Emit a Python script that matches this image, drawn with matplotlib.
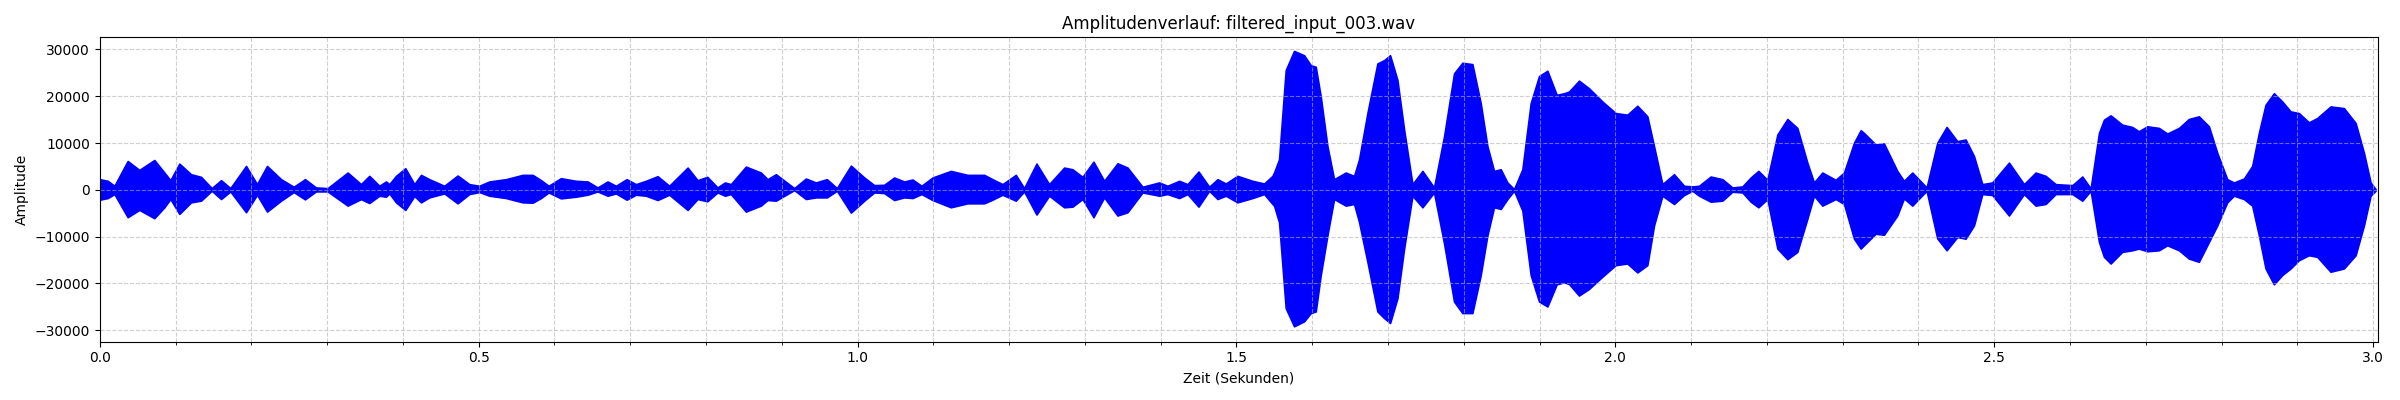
import matplotlib
matplotlib.use('Agg')
import matplotlib.pyplot as plt
from matplotlib.ticker import MultipleLocator

# ---------- envelope of the waveform ----------
# time (s), upper envelope, lower envelope
zeit = [0.0, 0.0105, 0.0193, 0.0368, 0.0522, 0.072, 0.0852, 0.0932, 0.105, 0.1204,
        0.1336, 0.1477, 0.16, 0.1723, 0.193, 0.2075, 0.2207, 0.2392, 0.2559, 0.2708,
        0.2853, 0.3007, 0.3271, 0.3447, 0.3557, 0.3689, 0.3777, 0.3821, 0.3909, 0.4032,
        0.4151, 0.4239, 0.4348, 0.4546, 0.4722, 0.4876, 0.5008, 0.514, 0.536, 0.558,
        0.5712, 0.5822, 0.5923, 0.6085, 0.6283, 0.6437, 0.6569, 0.6701, 0.6811, 0.6952,
        0.7075, 0.7207, 0.7361, 0.7515, 0.7757, 0.7888, 0.8016, 0.8152, 0.8249, 0.8328,
        0.8526, 0.8724, 0.8812, 0.8922, 0.9164, 0.9318, 0.945, 0.9595, 0.9727, 0.9912,
        1.0088, 1.022, 1.0351, 1.0483, 1.0615, 1.0725, 1.0844, 1.0989, 1.1231, 1.1451,
        1.1671, 1.178, 1.1912, 1.2088, 1.2198, 1.2361, 1.2528, 1.2726, 1.2836, 1.2968,
        1.3113, 1.3254, 1.343, 1.3562, 1.376, 1.398, 1.409, 1.4244, 1.4354, 1.4499,
        1.464, 1.475, 1.4859, 1.5013, 1.5211, 1.5365, 1.5475, 1.5496, 1.5562, 1.565,
        1.576, 1.5892, 1.598, 1.6046, 1.6112, 1.62, 1.6288, 1.6442, 1.6552, 1.6618,
        1.6728, 1.686, 1.6948, 1.7027, 1.7124, 1.7212, 1.7322, 1.7454, 1.7607, 1.774,
        1.7871, 1.7981, 1.8113, 1.8223, 1.8311, 1.8399, 1.8487, 1.8575, 1.8663, 1.8773,
        1.8883, 1.8993, 1.9103, 1.9226, 1.9323, 1.9388, 1.952, 1.9652, 1.9828, 2.0004,
        2.0158, 2.029, 2.0422, 2.051, 2.062, 2.0774, 2.0906, 2.1016, 2.1104, 2.1258,
        2.1412, 2.1544, 2.1676, 2.1786, 2.1887, 2.2006, 2.2138, 2.227, 2.2401, 2.2533,
        2.2621, 2.2731, 2.2907, 2.3017, 2.3149, 2.3237, 2.328, 2.3434, 2.3544, 2.372,
        2.3808, 2.3918, 2.4107, 2.4248, 2.4371, 2.4512, 2.4622, 2.4732, 2.4842, 2.4974,
        2.5194, 2.5392, 2.5546, 2.5678, 2.581, 2.603, 2.6162, 2.6272, 2.6382, 2.6448,
        2.6536, 2.6688, 2.682, 2.6908, 2.7019, 2.7173, 2.7283, 2.7437, 2.7568, 2.77,
        2.7832, 2.7942, 2.8074, 2.8162, 2.8294, 2.8404, 2.8492, 2.858, 2.869, 2.88,
        2.891, 2.902, 2.9152, 2.9262, 2.9438, 2.9614, 2.9768, 2.9878, 2.9966, 3.0032]

oben = [2260, 1910, 850, 6150, 4240, 6360, 3680, 2050, 5590, 3320,
        2760, 350, 2050, 350, 5090, 1200, 5090, 2260, 640, 2260,
        490, 350, 3680, 1200, 2970, 850, 1770, 1200, 2970, 4600,
        1200, 3180, 2260, 850, 3040, 1200, 850, 1770, 2260, 3180,
        3180, 2050, 850, 2470, 1910, 1770, 490, 1770, 850, 2260,
        1200, 1910, 2900, 850, 4740, 2050, 2760, 490, 1560, 1200,
        4950, 3680, 2260, 3320, 350, 2400, 1560, 2260, 350, 5160,
        2620, 990, 1060, 2620, 1770, 2190, 850, 2620, 4030, 3180,
        3180, 2260, 1200, 3180, 350, 5590, 1200, 4740, 4380, 2760,
        6010, 1910, 5660, 4740, 640, 1560, 850, 1910, 1200, 3890,
        640, 2260, 1340, 2970, 1910, 1340, 2970, 3680, 6500, 25590,
        29690, 28770, 26650, 26300, 19940, 9330, 2260, 3680, 2970, 6500,
        16400, 27010, 27710, 28770, 23470, 12870, 1200, 4030, 490, 11450,
        24890, 27150, 26870, 18520, 9330, 4030, 4380, 1560, 140, 4380,
        18520, 24320, 25450, 20290, 20640, 21000, 23330, 21700, 18880, 16400,
        16050, 17960, 15700, 9330, 1200, 3320, 850, 710, 850, 2830,
        2260, 490, 710, 2620, 4030, 2120, 11810, 15130, 13220, 5800,
        1560, 3680, 2120, 3680, 10040, 12730, 12160, 9690, 9900, 4030,
        1910, 3680, 490, 10040, 13430, 10390, 10750, 7210, 1200, 1560,
        5800, 1200, 3680, 2970, 1200, 990, 2830, 280, 12160, 14990,
        15910, 13930, 13430, 12510, 13570, 13220, 12020, 13220, 15130, 15700,
        13570, 7920, 2260, 1560, 2400, 5090, 12160, 18170, 20640, 18880,
        16760, 16400, 14420, 15340, 17820, 17460, 14280, 7920, 1560, 140]

unten = [-2120, -1770, -920, -5870, -4310, -6080, -3750, -1980, -5160, -2690,
         -2330, -210, -1980, -350, -4810, -1060, -4670, -2330, -490, -2050,
         -350, -350, -3390, -2000, -2830, -1270, -1480, -780, -2690, -4310,
         -1340, -2690, -1630, -780, -2900, -920, -490, -1270, -1770, -2690,
         -2760, -1770, -570, -1840, -1480, -1060, -350, -1270, -780, -2120,
         -1060, -1270, -2190, -1060, -4310, -1980, -2470, -570, -1270, -920,
         -4670, -3390, -2190, -2330, -70, -1980, -1630, -1630, -210, -4880,
         -2330, -570, -710, -2190, -1630, -1770, -920, -2190, -3750, -2900,
         -2900, -2120, -1060, -2330, -350, -5300, -1270, -3750, -3610, -1980,
         -5870, -1630, -5510, -4810, -570, -1270, -920, -1770, -920, -3610,
         -210, -1980, -1270, -2690, -1770, -920, -3040, -3390, -6930, -25310,
         -29200, -28140, -26370, -26020, -18240, -9760, -1980, -3390, -3040, -6930,
         -15410, -26020, -27430, -28490, -23190, -12580, -1270, -3750, -570, -11520,
         -23900, -26370, -26370, -18240, -9760, -3750, -4100, -1980, -210, -4450,
         -18240, -23900, -24960, -20220, -19800, -20150, -22620, -21210, -18590, -16120,
         -15770, -17680, -16120, -7640, -1270, -3040, -1130, -210, -1270, -2550,
         -2330, -420, -570, -2550, -3750, -1980, -12580, -14850, -13290, -6220,
         -1270, -3390, -1980, -3040, -10460, -12580, -11880, -9400, -9620, -5510,
         -1840, -3390, -210, -10390, -12940, -10110, -10460, -7640, -920, -1130,
         -5510, -920, -3390, -3040, -920, -920, -2330, -210, -11170, -14350,
         -15770, -13290, -12940, -12580, -13150, -12940, -11880, -12940, -14710, -15410,
         -11170, -7640, -2690, -1270, -1980, -3390, -9760, -16830, -20220, -18240,
         -16830, -15060, -14000, -14350, -17530, -16830, -14000, -7640, -1270, -210]

dauer = 3.0065
dateiname = 'filtered_input_003.wav'

fig, ax = plt.subplots(figsize=(24, 4), dpi=100)
ax.fill_between(zeit, unten, oben, color='blue', linewidth=1.2, edgecolor='blue')

ax.set_xlim(0, dauer)
ax.set_ylim(-32500, 32600)
ax.xaxis.set_major_locator(MultipleLocator(0.5))
ax.xaxis.set_minor_locator(MultipleLocator(0.1))
ax.yaxis.set_major_locator(MultipleLocator(10000))
ax.grid(True, which='both', linestyle='--', alpha=0.6)

ax.set_title(f'Amplitudenverlauf: {dateiname}')
ax.set_xlabel('Zeit (Sekunden)')
ax.set_ylabel('Amplitude')

plt.tight_layout()
plt.savefig('out.png')
plt.close()
